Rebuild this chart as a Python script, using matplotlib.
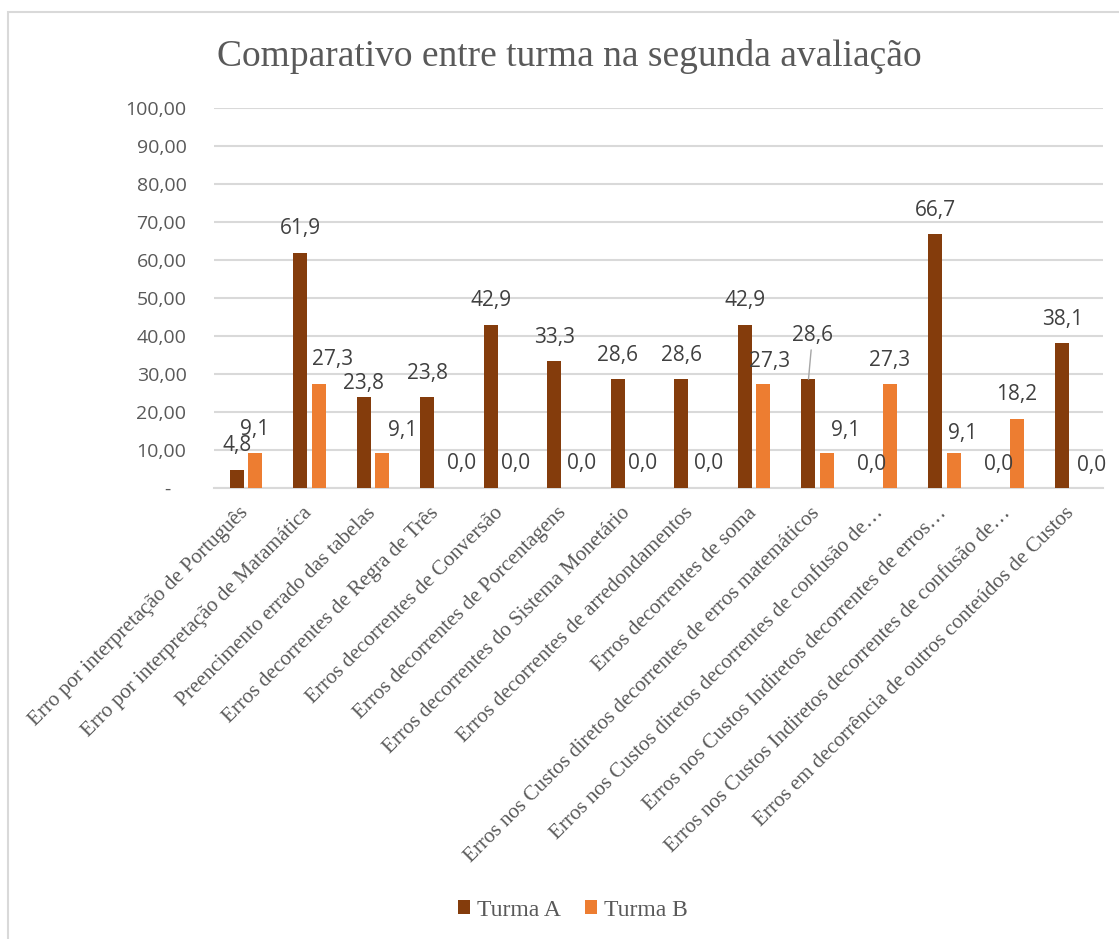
import numpy as np
import matplotlib.pyplot as plt
from matplotlib.patches import Rectangle
from matplotlib.ticker import FuncFormatter

categories = [
    "Erro por interpretação de Português",
    "Erro por interpretação de Matamática",
    "Preencimento errado das tabelas",
    "Erros decorrentes de Regra de Três",
    "Erros decorrentes de Conversão",
    "Erros decorrentes de Porcentagens",
    "Erros decorrentes do Sistema Monetário",
    "Erros decorrentes de arredondamentos",
    "Erros decorrentes de soma",
    "Erros nos Custos diretos decorrentes de erros matemáticos",
    "Erros nos Custos diretos decorrentes de confusão de…",
    "Erros nos Custos Indiretos decorrentes de erros…",
    "Erros nos Custos Indiretos decorrentes de confusão de…",
    "Erros em decorrência de outros conteúdos de Custos",
]
turma_a = [4.8, 61.9, 23.8, 23.8, 42.9, 33.3, 28.6, 28.6, 42.9, 28.6, 0.0, 66.7, 0.0, 38.1]
turma_b = [9.1, 27.3, 9.1, 0.0, 0.0, 0.0, 0.0, 0.0, 27.3, 9.1, 27.3, 9.1, 18.2, 0.0]
series_names = ["Turma A", "Turma B"]
yticks = np.arange(0, 101, 10)

# label nudges in pixels (dx, dy) from bar top, as placed in the original
nudge_a = [(0, 24)] * 14
nudge_a[2] = (0, 14)
nudge_a[9] = (4, 44)
nudge_b = [(0, 24), (14, 25), (21, 23), (16, 25), (7, 25), (9, 25), (7, 25),
           (9, 25), (7, 23), (19, 23), (0, 24), (9, 20), (0, 24), (11, 23)]

C_A = '#843C0C'
C_B = '#ED7D31'
GRID = '#D9D9D9'
TXT = '#595959'
SANS = 'Open Sans'
SERIF = 'Liberation Serif'

fig = plt.figure(figsize=(11.19, 9.39), dpi=100)
ax = fig.add_axes([214.25 / 1119, 1 - 488 / 939, 889 / 1119, 380.3 / 939])

x = np.arange(len(categories))
w = 0.22
off = 0.142
ax.bar(x - off, turma_a, w, color=C_A, label=series_names[0], zorder=3)
ax.bar(x + off, turma_b, w, color=C_B, label=series_names[1], zorder=3)

for i, v in enumerate(turma_a):
    dx, dy = nudge_a[i]
    arrow = None
    if dy > 30:
        arrow = dict(arrowstyle='-', color='#A6A6A6', lw=1, shrinkA=1, shrinkB=0)
    ax.annotate(f'{v:.1f}'.replace('.', ','), (x[i] - off, v),
                xytext=(dx, dy), textcoords='offset pixels',
                ha='center', va='center', fontsize=15, color='#404040',
                family=SANS, arrowprops=arrow)
for i, v in enumerate(turma_b):
    dx, dy = nudge_b[i]
    ax.annotate(f'{v:.1f}'.replace('.', ','), (x[i] + off, v),
                xytext=(dx, dy), textcoords='offset pixels',
                ha='center', va='center', fontsize=15, color='#404040',
                family=SANS)

ax.set_xlim(-0.5, len(categories) - 0.5)
ax.set_ylim(0, 100)
ax.set_yticks(yticks)
ax.yaxis.set_major_formatter(FuncFormatter(
    lambda v, p: '-   ' if v == 0 else f'{v:.2f}'.replace('.', ',')))
ax.grid(axis='y', color=GRID, lw=1.5, zorder=0)
ax.tick_params(axis='y', length=0, pad=20, labelsize=14, labelcolor=TXT)
for t in ax.get_yticklabels():
    t.set_family(SANS)
ax.set_xticks(x)
ax.set_xticklabels(categories, rotation=45, ha='right', va='center',
                   rotation_mode='anchor', family=SERIF, fontsize=15.2,
                   color=TXT)
ax.tick_params(axis='x', length=0, pad=16)
for s in ['top', 'right', 'left']:
    ax.spines[s].set_visible(False)
ax.spines['bottom'].set_color(GRID)
ax.spines['bottom'].set_linewidth(1.5)

fig.text(569 / 1119, 1 - 56 / 939, 'Comparativo entre turma na segunda avaliação',
         ha='center', va='center', family=SERIF, fontsize=27, color=TXT)

fig.legend(loc='center', bbox_to_anchor=(573 / 1119, 1 - 910 / 939), ncol=2,
           frameon=False, handlelength=0.5, handleheight=0.5,
           handletextpad=0.3, columnspacing=1.0,
           prop=dict(family=SERIF, size=17), labelcolor=TXT)

fig.patches.append(Rectangle((8 / 1119, -0.1), 1.2, 0.1 + (939 - 12) / 939,
                             transform=fig.transFigure, fill=False,
                             edgecolor=GRID, lw=1.5))

fig.savefig('out.png', dpi=100)
